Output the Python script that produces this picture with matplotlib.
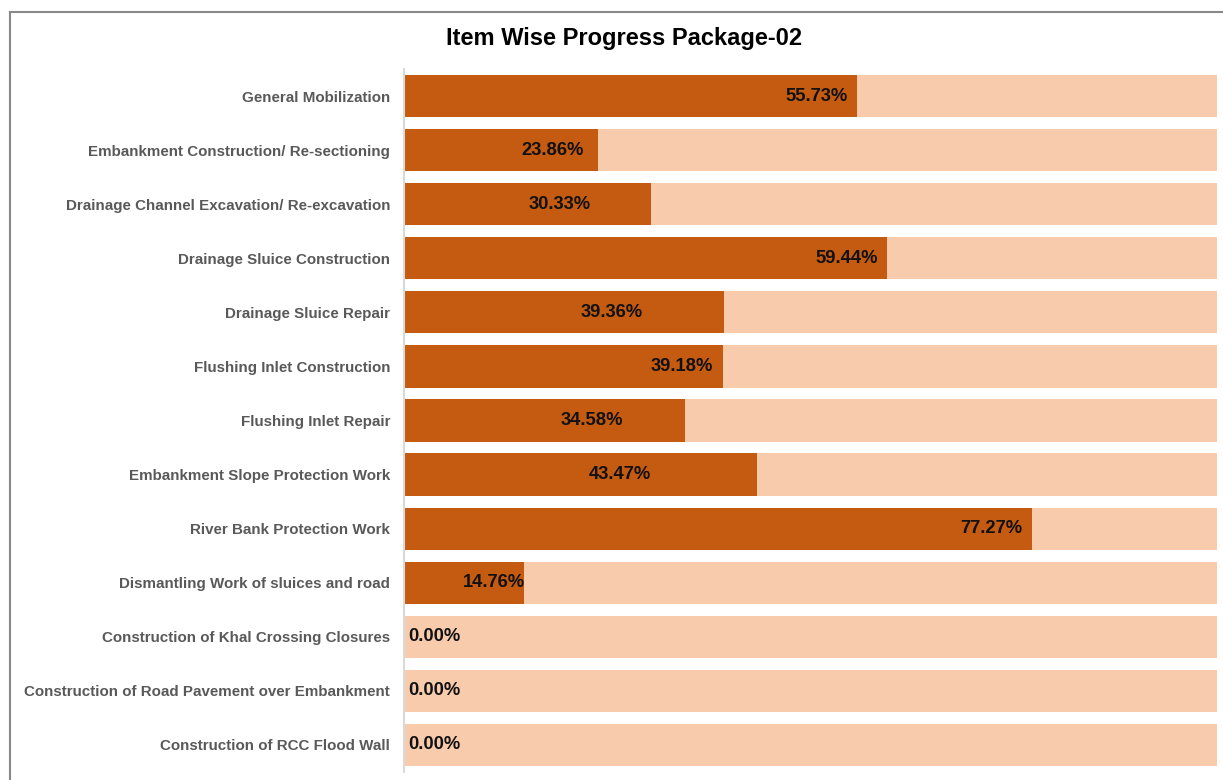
import numpy as np
import matplotlib.pyplot as plt
from matplotlib.lines import Line2D

categories = [
    "General Mobilization",
    "Embankment Construction/ Re-sectioning",
    "Drainage Channel Excavation/ Re-excavation",
    "Drainage Sluice Construction",
    "Drainage Sluice Repair",
    "Flushing Inlet Construction",
    "Flushing Inlet Repair",
    "Embankment Slope Protection Work",
    "River Bank Protection Work",
    "Dismantling Work of sluices and road",
    "Construction of Khal Crossing Closures",
    "Construction of Road Pavement over Embankment",
    "Construction of RCC Flood Wall",
]
progress = [55.73, 23.86, 30.33, 59.44, 39.36, 39.18, 34.58, 43.47, 77.27, 14.76, 0.00, 0.00, 0.00]
total = [100] * len(categories)
# where each value label sits (centre, % units), as placed in the original
label_x = [50.7, 18.3, 19.1, 54.4, 25.5, 34.2, 23.1, 26.6, 72.3, 11.1, 3.7, 3.7, 3.7]

dark = "#C55A11"
light = "#F8CBAD"

fig = plt.figure(figsize=(12.23, 7.8), dpi=100)
ax = fig.add_axes([404 / 1223, 1 - 772 / 780, (1217 - 404) / 1223, (772 - 69) / 780])

y = np.arange(len(categories))
ax.barh(y, total, height=0.78, color=light, zorder=1)
ax.barh(y, progress, height=0.78, color=dark, zorder=2)

for yi, v, lx in zip(y, progress, label_x):
    ax.text(lx, yi, f"{v:.2f}%", ha="center", va="center", fontsize=13.2,
            fontweight="bold", color="#111111", family="Liberation Sans", zorder=3)

ax.set_xlim(0, 100)
ax.set_ylim(len(categories) - 0.5, -0.5)
ax.set_yticks(y)
ax.set_yticklabels(categories, fontsize=10.9, fontweight="bold", color="#595959",
                   family="Liberation Sans")
ax.tick_params(axis="y", length=0, pad=10)
ax.set_xticks([])
for s in ["top", "right", "bottom"]:
    ax.spines[s].set_visible(False)
ax.spines["left"].set_color("#D9D9D9")
ax.spines["left"].set_linewidth(1.5)

fig.text(624 / 1223, 1 - 39 / 780, "Item Wise Progress Package-02", ha="center", va="center",
         fontsize=17, fontweight="bold", color="black", family="Liberation Sans")

# chart area border (left and top edges visible)
fig.add_artist(Line2D([10 / 1223, 10 / 1223], [0, 1 - 12 / 780], color="#888888", lw=1.5))
fig.add_artist(Line2D([10 / 1223, 1], [1 - 12 / 780, 1 - 12 / 780], color="#888888", lw=1.5))

fig.savefig("out.png", dpi=100)
